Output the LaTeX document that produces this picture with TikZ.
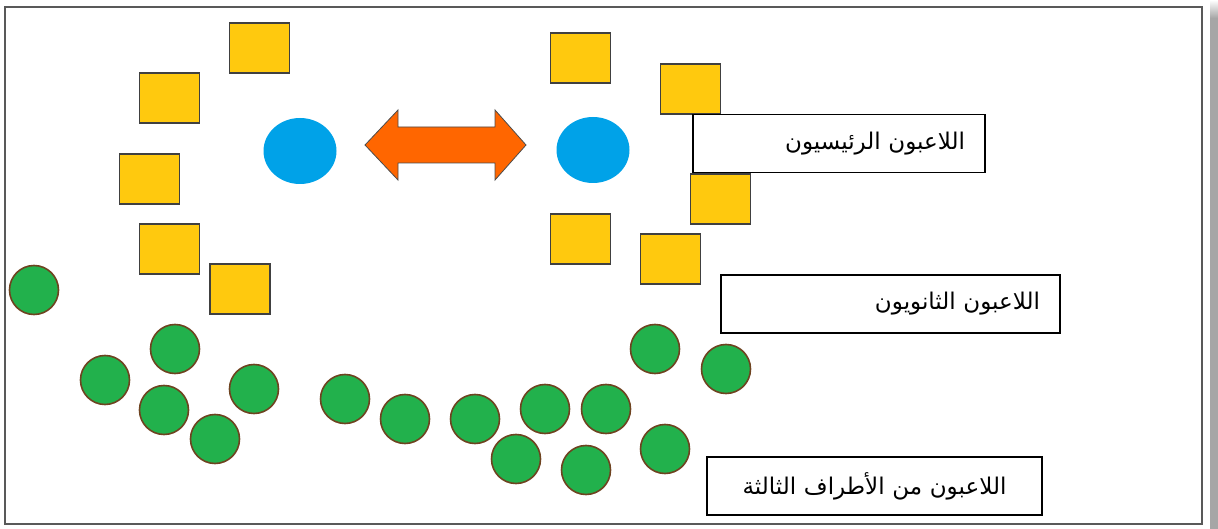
\documentclass[tikz,border=0pt]{standalone}
\usepackage{fontspec}
\newfontfamily\arabicfont[Script=Arabic]{DejaVu Sans}
\TeXXeTstate=1
\usetikzlibrary{shapes.geometric}

\definecolor{sqyellow}{HTML}{FFC90E}
\definecolor{dotblue}{HTML}{00A2E8}
\definecolor{dotgreen}{HTML}{22B14C}
\definecolor{rimbrown}{HTML}{6E4320}
\definecolor{arroworange}{HTML}{FF6600}

\begin{document}
\begin{tikzpicture}[
        x=1pt, y=-1pt,
        primary/.style={draw=none, ellipse, fill=dotblue, minimum width=73pt, minimum height=66pt, inner sep=0pt},
        secondary/.style={draw=black!75, line width=1.2pt, fill=sqyellow, minimum width=60pt, minimum height=50pt, inner sep=0pt},
        third/.style={circle, draw=rimbrown, line width=1.6pt, fill=dotgreen, minimum size=49pt, inner sep=0pt},
        legend/.style={draw=black, line width=1.5pt, fill=white, minimum height=58pt, inner ysep=0pt, font=\arabicfont\fontsize{23}{26}\selectfont}
    ]
        \useasboundingbox (0,0) rectangle (1218,529);

        % frame and its shadow
        \fill[white] (0,0) rectangle (1218,529);
        \shade[top color=white, bottom color=gray!70] (1210,0) rectangle (1218,18);
        \fill[gray!70] (1210,18) rectangle (1218,529);
        \draw[black!65, line width=1.6pt] (5,7) rectangle (1202,524);

        % Secondary players (squares)
        \foreach \x/\y [count=\i] in {259.5/48, 169.5/98, 149.5/179, 169.5/249, 240/289,
                                      580.5/58, 690.5/89, 720.5/199, 580.5/239, 670.5/259}
            \node[secondary] (sec\i) at (\x,\y) {};

        % Primary players
        \node[primary] (priA) at (300,151) {};
        \node[primary] (priB) at (593,150) {};

        % Double arrow between the primary players
        \filldraw[fill=arroworange, draw=black!70, line width=0.8pt, line join=miter]
            (365,145) -- (398,110) -- (398,127) -- (495,127) -- (495,110) -- (526,145)
            -- (495,180) -- (495,163) -- (398,163) -- (398,180) -- cycle;

        % Third parties (circles)
        \foreach \x/\y [count=\i] in {34/290, 175/349, 105/380, 254/389, 164/410, 215/439,
                                      345/399, 405/419, 475/419, 545/409, 606/409, 516/459,
                                      586/470, 655/349, 726/369, 665/449}
            \node[third] (trd\i) at (\x,\y) {};

        % Legend boxes
        \node[legend, minimum width=292pt, text width=252pt, inner xsep=20pt, align=right] (legPri) at (839,143.5)
            {\beginR اللاعبون الرئيسيون\endR};
        \node[legend, minimum width=339pt, text width=299pt, inner xsep=20pt, align=right] (legSec) at (890.5,304)
            {\beginR اللاعبون الثانويون\endR};
        \node[legend, minimum width=335pt, text width=301pt, inner xsep=17pt, align=center] (legTrd) at (874.5,486)
            {\beginR اللاعبون من الأطراف الثالثة\endR};
\end{tikzpicture}
\end{document}
